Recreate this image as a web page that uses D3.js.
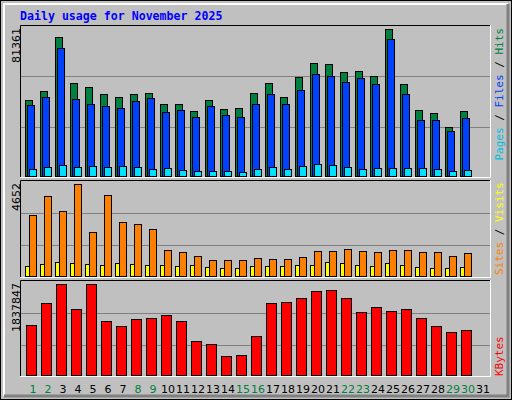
<!DOCTYPE html>
<html>
<head>
<meta charset="utf-8">
<script src="https://cdn.jsdelivr.net/npm/d3@7"></script>
<style>body{margin:0;background:#fff}</style>
</head>
<body>
<svg id="chart" width="512" height="400"></svg>
<script>
// values
var days = d3.range(1, 32);
var weekend = [1, 2, 8, 9, 15, 16, 22, 23, 29, 30];
var hits = [42066, 47048, 76937, 51476, 49262, 45387, 43727, 45387, 45941, 39852, 39852, 35978, 42066, 37085, 37638, 45941, 51476, 43727, 54797, 62546, 61992, 57564, 58118, 55350, 81361, 50922, 36531, 34871, 27122, 35978];
var files = [39299, 43727, 70848, 42620, 39852, 38745, 37638, 41513, 43173, 35424, 36531, 32657, 38745, 33764, 32657, 39852, 45387, 39852, 47601, 56457, 55350, 52029, 54243, 50922, 75830, 45387, 30996, 30996, 24908, 32103];
var pages = [3875, 4982, 6089, 4982, 5535, 4982, 5535, 4982, 3875, 4428, 3321, 2768, 2768, 2768, 2214, 3875, 4982, 3875, 5535, 6642, 6089, 4982, 3875, 4428, 4428, 4428, 4428, 3875, 2768, 3321];
var visits = [3085, 4046, 3287, 4652, 2225, 4096, 2731, 2630, 2377, 1315, 1214, 1011, 809, 809, 809, 910, 860, 860, 961, 1264, 1264, 1365, 1264, 1214, 1315, 1315, 1214, 1214, 1011, 1163];
var sites = [506, 607, 708, 657, 607, 556, 657, 607, 556, 556, 506, 556, 455, 405, 405, 506, 506, 506, 556, 556, 708, 657, 556, 506, 657, 556, 455, 405, 405, 455];
var kbytes = [1009800, 1454100, 1837847, 1332900, 1837847, 1090600, 989600, 1131000, 1151200, 1211800, 1090600, 686700, 626100, 383700, 403900, 787600, 1454100, 1474300, 1555100, 1696500, 1716700, 1555100, 1272300, 1373300, 1292500, 1332900, 1151200, 989600, 868400, 908800];

var svg = d3.select("#chart");
var font = "'DejaVu Sans', sans-serif";

// frame
svg.append("rect").attr("width", 512).attr("height", 400).attr("fill", "#c0c0c0");
svg.append("rect").attr("x", 0.5).attr("y", 0.5).attr("width", 511).attr("height", 399)
    .attr("fill", "none").attr("stroke", "#000");
svg.append("path").attr("d", "M4,396V4H508").attr("fill", "none").attr("stroke", "#fff").attr("stroke-width", 2);
svg.append("path").attr("d", "M508,4V396H4").attr("fill", "none").attr("stroke", "#808080").attr("stroke-width", 3);

svg.append("text").attr("x", 20).attr("y", 20)
    .style("font-family", "'DejaVu Sans Mono', monospace").style("font-weight", "bold")
    .style("font-size", "11.6px").attr("fill", "#0000ff")
    .text("Daily usage for November 2025");

var x0 = d3.scaleLinear().domain([1, 31]).range([25, 475]);

function panel(top, base, max, label, series, rightLabel, rLabelY, rAnchor) {
    var y = d3.scaleLinear().domain([0, max]).range([base, top === 25 ? 29 : top + 4]);
    var g = svg.append("g");
    [1 / 3, 0.68].forEach(function (f) {
        g.append("line").attr("x1", 21).attr("x2", 490)
            .attr("y1", Math.round(y(max * f)) + 0.5).attr("y2", Math.round(y(max * f)) + 0.5)
            .attr("stroke", "#808080");
    });
    series.forEach(function (s) {
        g.selectAll(null).data(s.data).join("rect")
            .attr("x", function (d, i) { return x0(days[i]) + s.off + 0.5; })
            .attr("y", function (d) { return Math.round(y(d)) + 0.5; })
            .attr("width", s.w)
            .attr("height", function (d) { return base - Math.round(y(d)); })
            .attr("fill", s.color).attr("stroke", "#000");
    });
    // panel borders
    g.append("path").attr("d", "M20.5," + (base + 1) + "V" + (top + 0.5) + "H491")
        .attr("fill", "none").attr("stroke", "#000");
    g.append("path").attr("d", "M490.5," + top + "V" + (base + 1.5) + "H20")
        .attr("fill", "none").attr("stroke", "#fff");
    // max label
    g.append("text").attr("transform", "translate(20," + (top + 3) + ") rotate(-90)")
        .attr("text-anchor", "end").style("font-family", font).style("font-size", "11px")
        .text(label);
    var t = g.append("text").attr("transform", "translate(503," + rLabelY + ") rotate(-90)")
        .attr("text-anchor", rAnchor).style("font-family", "'DejaVu Sans Mono', monospace")
        .style("font-size", "11px");
    rightLabel.forEach(function (p) { t.append("tspan").attr("fill", p[1]).text(p[0]); });
}

panel(25, 176, 81361, "81361", [
    { data: hits, off: 0, w: 7, color: "#008040" },
    { data: files, off: 2, w: 7, color: "#0040ff" },
    { data: pages, off: 4, w: 7, color: "#00e0ff" }
], [["Pages", "#00c0e0"], [" / ", "#000"], ["Files", "#0040ff"], [" / ", "#000"], ["Hits", "#008040"]], 28, "end");

panel(180, 276, 4652, "4652", [
    { data: sites, off: 0, w: 4, color: "#ffff00" },
    { data: visits, off: 4, w: 7, color: "#ff8000" }
], [["Sites", "#ff8000"], [" / ", "#000"], ["Visits", "#ffff00"]], 275, "start");

panel(280, 375, 1837847, "1837847", [
    { data: kbytes, off: 1, w: 10, color: "#ff0000" }
], [["KBytes", "#ff0000"]], 376, "start");

svg.append("g").selectAll("text").data(days).join("text")
    .attr("x", function (d) { return x0(d) + 8; }).attr("y", 393)
    .attr("text-anchor", "middle").style("font-family", font).style("font-size", "11px")
    .attr("fill", function (d) { return weekend.includes(d) ? "#008040" : "#000"; })
    .text(function (d) { return d; });
</script>
</body>
</html>
